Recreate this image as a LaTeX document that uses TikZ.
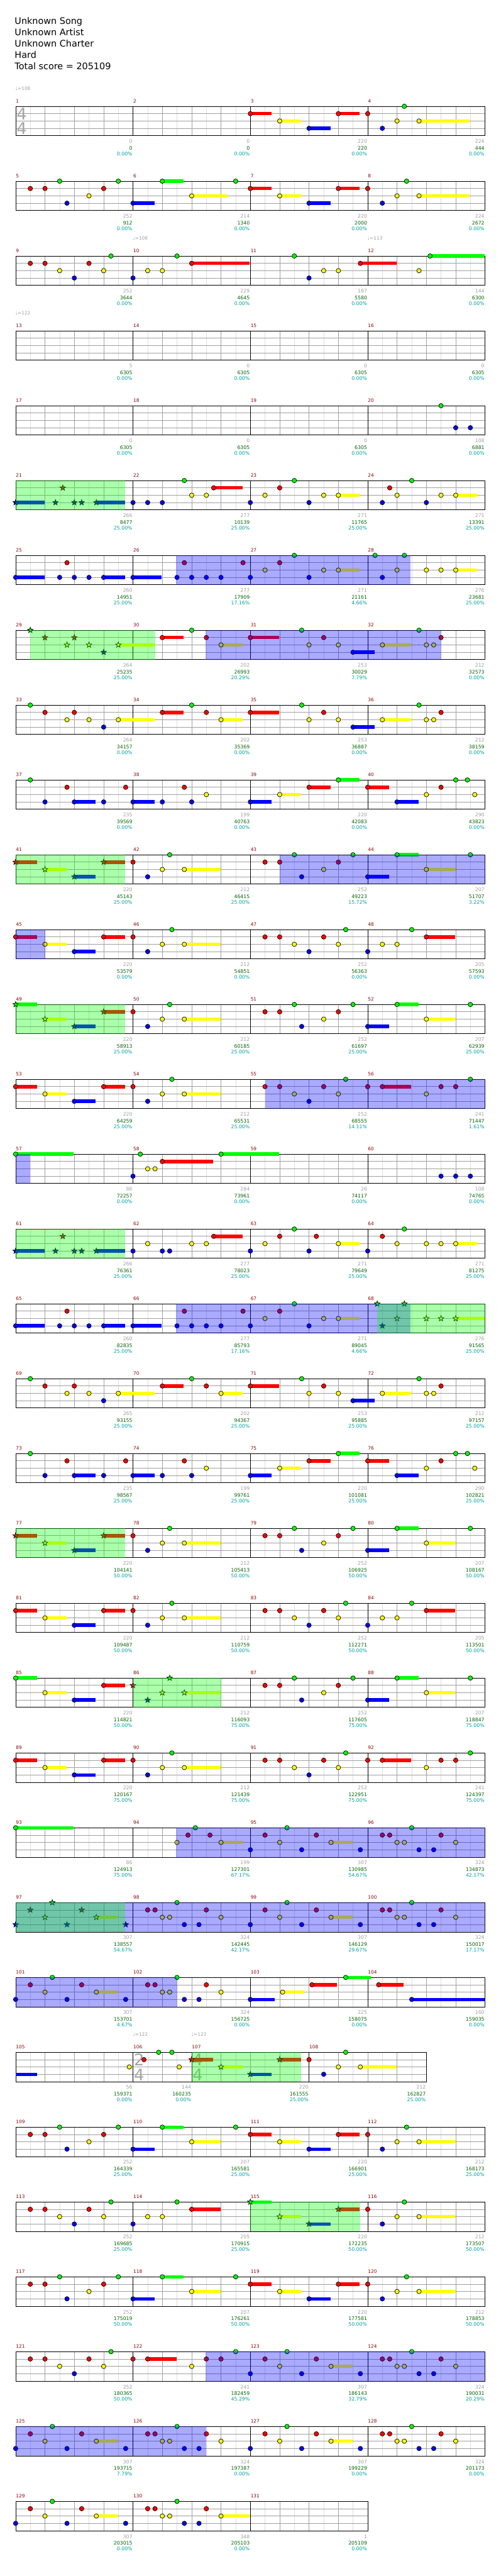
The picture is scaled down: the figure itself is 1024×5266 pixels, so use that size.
\documentclass[tikz,border=0pt]{standalone}
\usepackage{fontspec}
\setmainfont{DejaVu Sans}

\definecolor{nG}{RGB}{0,255,0}
\definecolor{nR}{RGB}{255,0,0}
\definecolor{nY}{RGB}{255,255,0}
\definecolor{nB}{RGB}{0,0,255}
\definecolor{gridq}{RGB}{160,160,160}
\definecolor{gride}{RGB}{221,221,221}
\definecolor{mnumc}{RGB}{139,0,0}
\definecolor{scorec}{RGB}{160,160,160}
\definecolor{totalc}{RGB}{0,100,0}
\definecolor{pctc}{RGB}{0,160,160}
\definecolor{tsigc}{RGB}{165,165,165}
\definecolor{spc}{RGB}{0,255,0}
\definecolor{odc}{RGB}{0,0,255}

\tikzset{
  notes/.style={draw=black,line width=0.9pt},
  eighth/.style={draw=gride,line width=1pt},
  quarter/.style={draw=gridq,line width=1pt},
  border/.style={draw=black,line width=1pt},
  head/.style={inner sep=0pt,font=\fontsize{18.5}{22}\selectfont},
  mnum/.style={inner sep=0pt,text=mnumc,font=\fontsize{9.5}{11}\selectfont},
  score/.style={inner sep=0pt,text=scorec,font=\fontsize{10}{12}\selectfont},
  total/.style={inner sep=0pt,text=totalc,font=\fontsize{10}{12}\selectfont},
  pct/.style={inner sep=0pt,text=pctc,font=\fontsize{10}{12}\selectfont},
  tempo/.style={inner sep=0pt,text=scorec,font=\fontsize{9.5}{11}\selectfont},
  tsig/.style={inner sep=0pt,text=tsigc,font=\fontsize{33}{33}\selectfont}
}

% position of a measure: \mx = left edge, \my = top of staff
\newcommand\setm[1]{%
  \pgfmathtruncatemacro\mrow{(#1-1)/4}%
  \pgfmathtruncatemacro\mcol{#1-1-4*\mrow}%
  \pgfmathsetmacro\mx{32+240*\mcol}%
  \pgfmathsetmacro\my{217.33+153*\mrow}%
  \ifnum#1>106 \ifnum#1<109 \pgfmathsetmacro\mx{\mx-120}\fi\fi}

% one measure: number, beats, score, total, percent
\newcommand\meas[5]{%
  \setm{#1}\pgfmathsetmacro\mw{60*#2}%
  \foreach \k in {1,...,#2} \draw[eighth] (\mx+60*\k-30,\my) -- ++(0,60);
  \pgfmathtruncatemacro\nq{#2-1}%
  \foreach \k in {1,...,\nq} \draw[quarter] (\mx+60*\k,\my) -- ++(0,60);
  \foreach \k in {15,30,45} \draw[quarter] (\mx,\my+\k) -- ++(\mw,0);
  \draw[border] (\mx,\my) rectangle ++(\mw,60);
  \node[mnum,anchor=base west] (mn#1) at (\mx+0.5,\my-7) {#1};
  \node[score,anchor=base east] (sc#1) at (\mx+\mw-1,\my+75.5) {#3};
  \node[total,anchor=base east] (to#1) at (\mx+\mw-1,\my+88.7) {#4};
  \node[pct,anchor=base east] (pc#1) at (\mx+\mw-1,\my+100.8) {#5\%};}

% a note: kind (c circle / s star), measure, 16th position, lane, hold length
\newcommand\nt[5]{%
  \setm{#2}%
  \ifcase#4\def\nc{nG}\or\def\nc{nR}\or\def\nc{nY}\or\def\nc{nB}\fi
  \pgfmathsetmacro\nx{\mx+15*#3}%
  \pgfmathsetmacro\ny{\my+15*#4}%
  \ifdim#5pt>0pt\fill[\nc] (\nx,\ny-3.5) rectangle (\nx+15*#5-1,\ny+3.5);\fi
  \if#1s\draw[notes,fill=\nc] plot[samples at={0,...,9},variable=\k]
      ({\nx+(4.25+1.75*cos(180*\k))*cos(-90+36*\k)},{\ny+(4.25+1.75*cos(180*\k))*sin(-90+36*\k)}) -- cycle;
  \else\draw[notes,fill=\nc] (\nx,\ny) circle (4.6);\fi}
\newcommand\tail[4]{\setm{#1}\ifcase#3\def\nc{nG}\or\def\nc{nR}\or\def\nc{nY}\or\def\nc{nB}\fi
  \fill[\nc] (\mx+15*#2,\my+15*#3-3.5) rectangle (\mx+15*#2+15*#4-1,\my+15*#3+3.5);}

% shaded phrase: colour, from measure/pos, to measure/pos
\newcommand\ovl[5]{%
  \setm{#2}\pgfmathsetmacro\xa{\mx+15*#3}\let\ya\my
  \setm{#4}\pgfmathsetmacro\xb{\mx+15*#5}%
  \fill[#1,opacity=0.333] (\xa,\ya) rectangle (\xb,\ya+60);}

\newcommand\tempo[2]{\setm{#1}\node[tempo,anchor=base west] (tq#1) at (\mx-0.5,\my-33) {♩=#2};}
\newcommand\tsig[3]{\setm{#1}%
  \node[tsig] (tsa#1) at (\mx+12.5,\my+15.5) {#2};
  \node[tsig] (tsb#1) at (\mx+12.5,\my+45.5) {#3};}

% repeated measures
\newcommand\pRun[2]{\nt{#1}{#2}{2}{1}{0}\nt{#1}{#2}{4}{1}{0}\nt{#1}{#2}{6}{0}{0}\nt{#1}{#2}{7}{3}{0}%
  \nt{#1}{#2}{10}{2}{0}\nt{#1}{#2}{12}{1}{0}\nt{#1}{#2}{14}{0}{0}}
\newcommand\pWalk[1]{\nt{c}{#1}{2}{1}{0}\nt{c}{#1}{4}{1}{0}\nt{c}{#1}{6}{2}{0}\nt{c}{#1}{8}{3}{0}%
  \nt{c}{#1}{10}{1}{0}\nt{c}{#1}{12}{2}{0}\nt{c}{#1}{13}{0}{0}}
\newcommand\pFour[3]{\nt{#1}{#2}{0}{#3}{3}\nt{#1}{#2}{4}{2}{3}\nt{#1}{#2}{8}{3}{3}\nt{#1}{#2}{12}{1}{3}}
\newcommand\pTap[4]{\nt{#1}{#2}{0}{1}{0}\nt{#1}{#2}{2}{3}{0}\nt{#1}{#2}{4}{2}{0}\nt{#1}{#2}{#3}{0}{0}\nt{#1}{#2}{7}{2}{#4}}
\newcommand\pLong[2]{\nt{c}{#1}{0}{3}{3}\nt{c}{#1}{4}{0}{3}\nt{c}{#1}{8}{2}{#2}\nt{c}{#1}{14}{0}{0}}
\newcommand\pRise[2]{\nt{c}{#1}{0}{3}{0}\nt{c}{#1}{2}{2}{0}\nt{c}{#1}{4}{2}{0}\nt{c}{#1}{6}{0}{0}\nt{c}{#1}{8}{1}{#2}}
\newcommand\pDrop[1]{\nt{c}{#1}{0}{1}{0}\nt{c}{#1}{2}{1}{4}\nt{c}{#1}{8}{2}{0}\nt{c}{#1}{10}{1}{0}%
  \nt{c}{#1}{12}{1}{0}\nt{c}{#1}{14}{0}{0}}
\newcommand\pSolo[2]{\nt{#1}{#2}{0}{3}{0}\nt{#1}{#2}{2}{1}{0}\nt{#1}{#2}{4}{2}{0}\nt{#1}{#2}{5}{0}{0}%
  \nt{#1}{#2}{7}{3}{0}\nt{#1}{#2}{9}{1}{0}\nt{#1}{#2}{11}{2}{3}\nt{#1}{#2}{15}{3}{0}}
\newcommand\pFill[2]{\nt{c}{#1}{2}{1}{0}\nt{c}{#1}{3}{1}{0}\nt{c}{#1}{4}{2}{0}\nt{c}{#1}{5}{2}{0}%
  \nt{c}{#1}{6}{0}{0}\nt{c}{#1}{7}{3}{0}\nt{c}{#1}{9}{3}{0}\nt{c}{#1}{10}{1}{0}\nt{c}{#1}{12}{2}{#2}}
\newcommand\pSwA[2]{\nt{#1}{#2}{2}{0}{0}\nt{#1}{#2}{4}{1}{0}\nt{#1}{#2}{7}{2}{0}\nt{#1}{#2}{8}{1}{0}%
  \nt{#1}{#2}{10}{2}{0}\nt{#1}{#2}{12}{3}{0}\nt{#1}{#2}{14}{2}{5}}
\newcommand\pSwB[1]{\nt{c}{#1}{4}{1}{3}\nt{c}{#1}{8}{0}{0}\nt{c}{#1}{10}{1}{0}\nt{c}{#1}{12}{2}{3}}
\newcommand\pSwC[1]{\nt{c}{#1}{0}{1}{4}\nt{c}{#1}{7}{0}{0}\nt{c}{#1}{8}{2}{0}\nt{c}{#1}{10}{1}{0}%
  \nt{c}{#1}{12}{2}{0}\nt{c}{#1}{14}{3}{3}}
\newcommand\pSwD[1]{\nt{c}{#1}{2}{2}{4}\nt{c}{#1}{7}{0}{0}\nt{c}{#1}{8}{2}{0}\nt{c}{#1}{9}{2}{0}\nt{c}{#1}{10}{1}{0}}
\newcommand\pBeA[1]{\nt{c}{#1}{2}{0}{0}\nt{c}{#1}{4}{3}{0}\nt{c}{#1}{7}{1}{0}\nt{c}{#1}{8}{3}{3}%
  \nt{c}{#1}{12}{3}{0}\nt{c}{#1}{15}{1}{0}}
\newcommand\pBeB[1]{\nt{c}{#1}{0}{3}{3}\nt{c}{#1}{4}{3}{0}\nt{c}{#1}{7}{1}{0}\nt{c}{#1}{8}{3}{0}\nt{c}{#1}{10}{2}{0}}
\newcommand\pBeC[1]{\nt{c}{#1}{0}{3}{3}\nt{c}{#1}{4}{2}{3}\nt{c}{#1}{8}{1}{3}\nt{c}{#1}{12}{0}{3}}
\newcommand\pBeD[1]{\nt{c}{#1}{0}{1}{3}\nt{c}{#1}{4}{3}{3}\nt{c}{#1}{8}{2}{0}\nt{c}{#1}{10}{1}{0}%
  \nt{c}{#1}{12}{0}{0}\nt{c}{#1}{13.6}{0}{0}\nt{c}{#1}{14.6}{2}{0}}
\newcommand\pStarRun[1]{\nt{s}{#1}{0}{3}{4}\nt{s}{#1}{5.43}{3}{0}\nt{s}{#1}{6.43}{1}{0}\nt{s}{#1}{8}{3}{0}%
  \nt{s}{#1}{9}{3}{0}\nt{s}{#1}{11}{3}{4}}
\newcommand\pBlueA[1]{\nt{c}{#1}{0}{3}{4}\nt{c}{#1}{6}{3}{0}\nt{c}{#1}{7}{1}{0}\nt{c}{#1}{8}{3}{0}%
  \nt{c}{#1}{10}{3}{0}\nt{c}{#1}{12}{3}{3}}
\newcommand\pBlueB[1]{\nt{c}{#1}{0}{3}{4}\nt{c}{#1}{6}{3}{0}\nt{c}{#1}{7}{1}{0}\nt{c}{#1}{8}{3}{0}%
  \nt{c}{#1}{10}{3}{0}\nt{c}{#1}{12}{3}{0}\nt{c}{#1}{15}{1}{0}}
\newcommand\pBlueC[1]{\nt{c}{#1}{0}{3}{0}\nt{c}{#1}{2}{2}{0}\nt{c}{#1}{4}{1}{0}\nt{c}{#1}{6}{0}{0}%
  \nt{c}{#1}{8}{3}{0}\nt{c}{#1}{10}{2}{0}\nt{c}{#1}{12}{2}{3}}
\newcommand\pEnd[4]{\nt{#1}{#2}{#3}{0}{0}\nt{#1}{#2}{2}{3}{0}\nt{#1}{#2}{4}{2}{0}\nt{#1}{#2}{5}{0}{0}%
  \nt{#1}{#2}{8}{2}{0}\nt{#1}{#2}{10}{2}{0}\nt{#1}{#2}{12}{2}{#4}}

\begin{document}
\begin{tikzpicture}[x=1pt,y=-1pt]
\path[fill=white] (0,0) rectangle (1024,5266);

% song info
\node[head,anchor=base west] (ti1) at (30,49.3) {Unknown Song};
\node[head,anchor=base west] (ti2) at (30,72.4) {Unknown Artist};
\node[head,anchor=base west] (ti3) at (30,95.5) {Unknown Charter};
\node[head,anchor=base west] (ti4) at (30,118.6) {Hard};
\node[head,anchor=base west] (ti5) at (30,141.7) {Total score = 205109};

% staves
\meas{1}{4}{0}{0}{0.00}\meas{2}{4}{0}{0}{0.00}\meas{3}{4}{220}{220}{0.00}\meas{4}{4}{224}{444}{0.00}
\meas{5}{4}{252}{912}{0.00}\meas{6}{4}{214}{1340}{0.00}\meas{7}{4}{220}{2000}{0.00}\meas{8}{4}{224}{2672}{0.00}
\meas{9}{4}{252}{3644}{0.00}\meas{10}{4}{229}{4645}{0.00}\meas{11}{4}{187}{5580}{0.00}\meas{12}{4}{144}{6300}{0.00}
\meas{13}{4}{5}{6305}{0.00}\meas{14}{4}{0}{6305}{0.00}\meas{15}{4}{0}{6305}{0.00}\meas{16}{4}{0}{6305}{0.00}
\meas{17}{4}{0}{6305}{0.00}\meas{18}{4}{0}{6305}{0.00}\meas{19}{4}{0}{6305}{0.00}\meas{20}{4}{108}{6881}{0.00}
\meas{21}{4}{266}{8477}{25.00}\meas{22}{4}{277}{10139}{25.00}\meas{23}{4}{271}{11765}{25.00}\meas{24}{4}{271}{13391}{25.00}
\meas{25}{4}{260}{14951}{25.00}\meas{26}{4}{277}{17909}{17.16}\meas{27}{4}{271}{21161}{4.66}\meas{28}{4}{276}{23681}{25.00}
\meas{29}{4}{264}{25235}{25.00}\meas{30}{4}{202}{26993}{20.29}\meas{31}{4}{253}{30029}{7.79}\meas{32}{4}{212}{32573}{0.00}
\meas{33}{4}{264}{34157}{0.00}\meas{34}{4}{202}{35369}{0.00}\meas{35}{4}{253}{36887}{0.00}\meas{36}{4}{212}{38159}{0.00}
\meas{37}{4}{235}{39569}{0.00}\meas{38}{4}{199}{40763}{0.00}\meas{39}{4}{220}{42083}{0.00}\meas{40}{4}{290}{43823}{0.00}
\meas{41}{4}{220}{45143}{25.00}\meas{42}{4}{212}{46415}{25.00}\meas{43}{4}{252}{49223}{15.72}\meas{44}{4}{207}{51707}{3.22}
\meas{45}{4}{220}{53579}{0.00}\meas{46}{4}{212}{54851}{0.00}\meas{47}{4}{252}{56363}{0.00}\meas{48}{4}{205}{57593}{0.00}
\meas{49}{4}{220}{58913}{25.00}\meas{50}{4}{212}{60185}{25.00}\meas{51}{4}{252}{61697}{25.00}\meas{52}{4}{207}{62939}{25.00}
\meas{53}{4}{220}{64259}{25.00}\meas{54}{4}{212}{65531}{25.00}\meas{55}{4}{252}{68555}{14.11}\meas{56}{4}{241}{71447}{1.61}
\meas{57}{4}{86}{72257}{0.00}\meas{58}{4}{284}{73961}{0.00}\meas{59}{4}{26}{74117}{0.00}\meas{60}{4}{108}{74765}{0.00}
\meas{61}{4}{266}{76361}{25.00}\meas{62}{4}{277}{78023}{25.00}\meas{63}{4}{271}{79649}{25.00}\meas{64}{4}{271}{81275}{25.00}
\meas{65}{4}{260}{82835}{25.00}\meas{66}{4}{277}{85793}{17.16}\meas{67}{4}{271}{89045}{4.66}\meas{68}{4}{276}{91565}{25.00}
\meas{69}{4}{265}{93155}{25.00}\meas{70}{4}{202}{94367}{25.00}\meas{71}{4}{253}{95885}{25.00}\meas{72}{4}{212}{97157}{25.00}
\meas{73}{4}{235}{98567}{25.00}\meas{74}{4}{199}{99761}{25.00}\meas{75}{4}{220}{101081}{25.00}\meas{76}{4}{290}{102821}{25.00}
\meas{77}{4}{220}{104141}{50.00}\meas{78}{4}{212}{105413}{50.00}\meas{79}{4}{252}{106925}{50.00}\meas{80}{4}{207}{108167}{50.00}
\meas{81}{4}{220}{109487}{50.00}\meas{82}{4}{212}{110759}{50.00}\meas{83}{4}{252}{112271}{50.00}\meas{84}{4}{205}{113501}{50.00}
\meas{85}{4}{220}{114821}{50.00}\meas{86}{4}{212}{116093}{75.00}\meas{87}{4}{252}{117605}{75.00}\meas{88}{4}{207}{118847}{75.00}
\meas{89}{4}{220}{120167}{75.00}\meas{90}{4}{212}{121439}{75.00}\meas{91}{4}{252}{122951}{75.00}\meas{92}{4}{241}{124397}{75.00}
\meas{93}{4}{86}{124913}{75.00}\meas{94}{4}{199}{127301}{67.17}\meas{95}{4}{307}{130985}{54.67}\meas{96}{4}{324}{134873}{42.17}
\meas{97}{4}{307}{138557}{54.67}\meas{98}{4}{324}{142445}{42.17}\meas{99}{4}{307}{146129}{29.67}\meas{100}{4}{324}{150017}{17.17}
\meas{101}{4}{307}{153701}{4.67}\meas{102}{4}{324}{156725}{0.00}\meas{103}{4}{225}{158075}{0.00}\meas{104}{4}{160}{159035}{0.00}
\meas{105}{4}{56}{159371}{0.00}\meas{106}{2}{144}{160235}{0.00}\meas{107}{4}{220}{161555}{25.00}\meas{108}{4}{212}{162827}{25.00}
\meas{109}{4}{252}{164339}{25.00}\meas{110}{4}{207}{165581}{25.00}\meas{111}{4}{220}{166901}{25.00}\meas{112}{4}{212}{168173}{25.00}
\meas{113}{4}{252}{169685}{25.00}\meas{114}{4}{205}{170915}{25.00}\meas{115}{4}{220}{172235}{50.00}\meas{116}{4}{212}{173507}{50.00}
\meas{117}{4}{252}{175019}{50.00}\meas{118}{4}{207}{176261}{50.00}\meas{119}{4}{220}{177581}{50.00}\meas{120}{4}{212}{178853}{50.00}
\meas{121}{4}{252}{180365}{50.00}\meas{122}{4}{241}{182459}{45.29}\meas{123}{4}{307}{186143}{32.79}\meas{124}{4}{324}{190031}{20.29}
\meas{125}{4}{307}{193715}{7.79}\meas{126}{4}{324}{197387}{0.00}\meas{127}{4}{307}{199229}{0.00}\meas{128}{4}{324}{201173}{0.00}
\meas{129}{4}{307}{203015}{0.00}\meas{130}{4}{348}{205103}{0.00}\meas{131}{4}{1}{205109}{0.00}

% tempo and time signatures
\tempo{1}{108}\tempo{10}{108}\tempo{12}{113}\tempo{13}{122}\tempo{106}{122}\tempo{107}{122}
\tsig{1}{4}{4}\tsig{106}{2}{4}\tsig{107}{4}{4}

% notes
\pFour{c}{3}{1}\pTap{c}{4}{5}{7}
\pRun{c}{5}\pLong{6}{5}\pFour{c}{7}{1}\pTap{c}{8}{5.3}{7}
\pWalk{9}\pRise{10}{8}
\nt{c}{11}{6}{0}{0}\nt{c}{11}{8}{3}{0}\nt{c}{11}{10}{2}{0}\nt{c}{11}{12}{2}{0}\nt{c}{11}{15}{1}{5}
\nt{c}{12}{7}{2}{0}\nt{c}{12}{8.5}{0}{7.5}
\nt{c}{20}{10}{0}{0}\nt{c}{20}{12}{3}{0}\nt{c}{20}{14}{3}{0}
\pStarRun{21}
\nt{c}{22}{0}{3}{0}\nt{c}{22}{2}{3}{0}\nt{c}{22}{4}{3}{0}\nt{c}{22}{7}{0}{0}\nt{c}{22}{8}{2}{0}\nt{c}{22}{10}{2}{0}\nt{c}{22}{11}{1}{4}
\pBlueC{23}
\nt{c}{24}{2}{3}{0}\nt{c}{24}{3}{1}{0}\nt{c}{24}{4}{2}{0}\nt{c}{24}{6}{0}{0}\nt{c}{24}{8}{3}{0}\nt{c}{24}{10}{2}{0}\nt{c}{24}{12}{2}{3}
\pBlueA{25}\pBlueB{26}\pBlueC{27}\pEnd{c}{28}{1}{3}
\pSwA{s}{29}\pSwB{30}\pSwC{31}\pSwD{32}
\pSwA{c}{33}\pSwB{34}\pSwC{35}\pSwD{36}
\pBeA{37}\pBeB{38}\pBeC{39}\pBeD{40}
\pFour{s}{41}{1}\pTap{c}{42}{5}{5}\pRun{c}{43}\pLong{44}{4}
\pFour{c}{45}{1}\pTap{c}{46}{5.3}{5}\pWalk{47}\pRise{48}{4}
\pFour{s}{49}{0}\pTap{c}{50}{5}{5}\pRun{c}{51}\pLong{52}{4}
\pFour{c}{53}{1}\pTap{c}{54}{5.3}{5}\pWalk{55}\pDrop{56}
\nt{c}{57}{0}{0}{8}
\nt{c}{58}{0}{3}{0}\nt{c}{58}{1}{0}{0}\nt{c}{58}{2}{2}{0}\nt{c}{58}{3}{2}{0}\nt{c}{58}{4}{1}{7}\nt{c}{58}{12}{0}{8}
\nt{c}{60}{10}{3}{0}\nt{c}{60}{12}{3}{0}\nt{c}{60}{14}{3}{0}
\pStarRun{61}
\nt{c}{62}{0}{3}{0}\nt{c}{62}{2}{2}{0}\nt{c}{62}{4}{3}{0}\nt{c}{62}{5}{3}{0}\nt{c}{62}{8}{2}{0}\nt{c}{62}{10}{2}{0}\nt{c}{62}{11}{1}{4}
\nt{c}{63}{0}{3}{0}\nt{c}{63}{2}{2}{0}\nt{c}{63}{4}{1}{0}\nt{c}{63}{6}{0}{0}\nt{c}{63}{8}{3}{0}\nt{c}{63}{9}{1}{0}\nt{c}{63}{12}{2}{3}
\nt{c}{64}{0}{3}{0}\nt{c}{64}{2}{1}{0}\nt{c}{64}{4}{2}{0}\nt{c}{64}{5}{0}{0}\nt{c}{64}{8}{2}{0}\nt{c}{64}{10}{2}{0}\nt{c}{64}{12}{2}{3}
\pBlueA{65}\pBlueB{66}\pBlueC{67}\pEnd{s}{68}{1.3}{4}
\pSwA{c}{69}\pSwB{70}\pSwC{71}\pSwD{72}
\pBeA{73}\pBeB{74}\pBeC{75}\pBeD{76}
\pFour{s}{77}{1}\pTap{c}{78}{5}{5}\pRun{c}{79}\pLong{80}{4}
\pFour{c}{81}{1}\pTap{c}{82}{5.3}{5}\pWalk{83}\pRise{84}{4}
\pFour{c}{85}{0}\pTap{s}{86}{5}{5}\pRun{c}{87}\pLong{88}{4}
\pFour{c}{89}{1}\pTap{c}{90}{5.3}{5}\pWalk{91}\pDrop{92}
\nt{c}{93}{0}{0}{8}
\nt{c}{94}{6}{2}{0}\nt{c}{94}{7.5}{1}{0}\nt{c}{94}{8.5}{0}{0}\nt{c}{94}{10.5}{1}{0}\nt{c}{94}{12}{2}{3}
\pSolo{c}{95}\pFill{96}{0}
\pSolo{s}{97}\pFill{98}{0}\pSolo{c}{99}\pFill{100}{0}
\pSolo{c}{101}\pFill{102}{0}
\nt{c}{103}{0}{3}{3.4}\nt{c}{103}{4.4}{2}{3}\nt{c}{103}{8.4}{1}{3.5}\nt{c}{103}{13}{0}{3.5}
\nt{c}{104}{1.5}{1}{3.5}\nt{c}{104}{6}{3}{10}
\tail{105}{0}{3}{3}\nt{c}{105}{15.5}{2}{0}
\nt{c}{106}{1.5}{1}{0}\nt{c}{106}{3.5}{0}{0}\nt{c}{106}{5.3}{0}{0}\nt{c}{106}{6.3}{2}{0}
\pFour{s}{107}{1}\pTap{c}{108}{5}{5}
\pRun{c}{109}\pLong{110}{4}\pFour{c}{111}{1}\pTap{c}{112}{5.3}{5}
\pWalk{113}\pRise{114}{4}\pFour{s}{115}{0}\pTap{c}{116}{5}{5}
\pRun{c}{117}\pLong{118}{4}\pFour{c}{119}{1}\pTap{c}{120}{5.3}{5}
\pWalk{121}\pDrop{122}\pSolo{c}{123}\pFill{124}{0}
\pSolo{c}{125}\pFill{126}{0}\pSolo{c}{127}\pFill{128}{0}
\pSolo{c}{129}\pFill{130}{4}

% star power (green) and overdrive (blue) phrases
\ovl{spc}{21}{0}{21}{14.95}
\ovl{odc}{26}{5.9}{28}{5.87}
\ovl{spc}{29}{2}{30}{3}
\ovl{odc}{30}{9.9}{32}{10}
\ovl{spc}{41}{0}{41}{14.95}
\ovl{odc}{43}{4}{44}{16}\ovl{odc}{45}{0}{45}{4}
\ovl{spc}{49}{0}{49}{14.95}
\ovl{odc}{55}{2}{56}{16}\ovl{odc}{57}{0}{57}{2}
\ovl{spc}{61}{0}{61}{14.95}
\ovl{odc}{66}{5.9}{68}{5.87}
\ovl{spc}{68}{1.3}{68}{16}
\ovl{spc}{77}{0}{77}{14.95}
\ovl{spc}{86}{0}{86}{12}
\ovl{odc}{94}{5.9}{96}{16}\ovl{odc}{97}{0}{100}{16}\ovl{odc}{101}{0}{102}{6}
\ovl{spc}{97}{0}{97}{14.95}
\ovl{spc}{107}{0}{107}{14.95}
\ovl{spc}{115}{0}{115}{14.95}
\ovl{odc}{122}{9.9}{124}{16}\ovl{odc}{125}{0}{126}{10}
\end{tikzpicture}
\end{document}
